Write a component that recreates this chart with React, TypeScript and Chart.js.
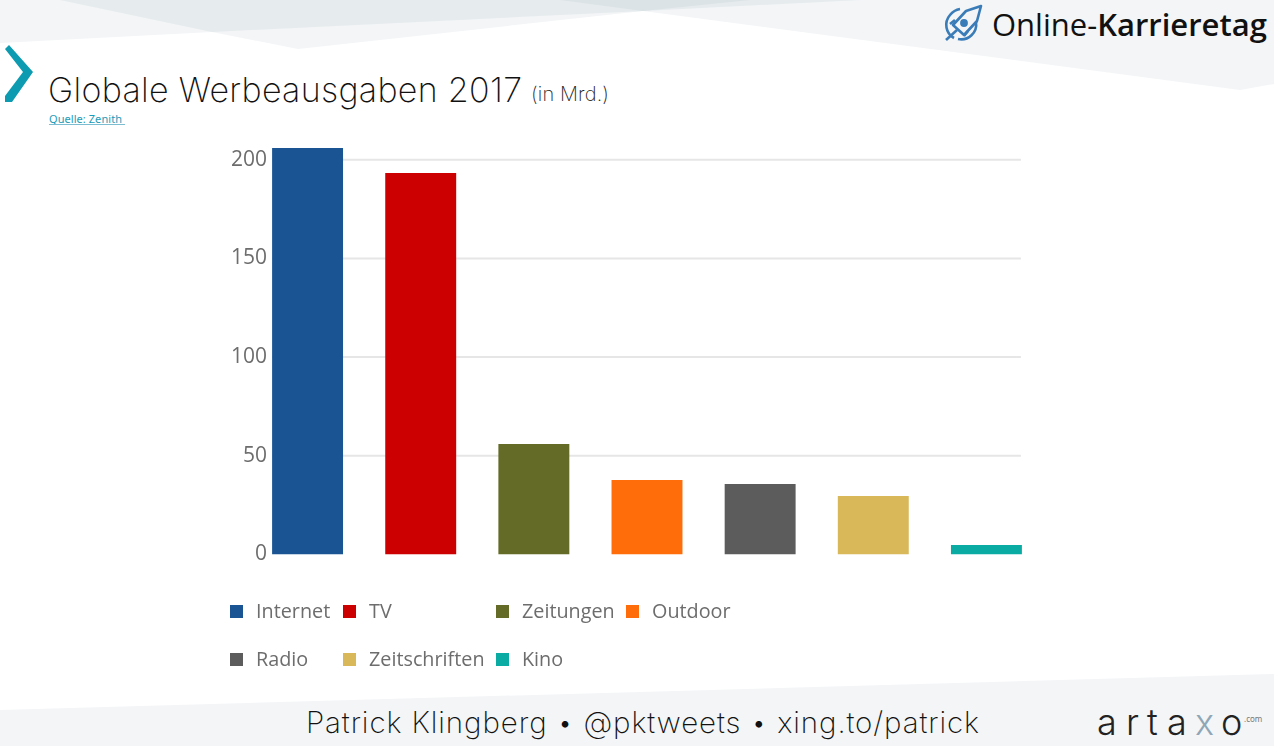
import React, { useEffect, useRef } from "react";
import { Chart, registerables } from "chart.js";

Chart.register(...registerables);

const categories = ["Internet", "TV", "Zeitungen", "Outdoor", "Radio", "Zeitschriften", "Kino"];
const spending = [205.9, 193.3, 56, 37.7, 35.7, 29.6, 4.8];
const barColors = ["#1a5493", "#cc0000", "#646b26", "#ff6d0a", "#5c5c5c", "#d8b858", "#0aaba3"];

const W = 1274;
const H = 746;
const legendColumns = [230, 343, 496, 626];
const legendRowOf = [0, 0, 0, 0, 1, 1, 1];
const legendColOf = [0, 1, 2, 3, 0, 1, 2];
const legendRowY = [611, 659];

const hGrid = {
  id: "hGrid",
  beforeDraw(chart: any) {
    // tick labels sit over the plot's left margin, so widen the axis' label area
    chart.scales.y.right = chart.scales.y.left + 271;
  },
  beforeDatasetsDraw(chart: any) {
    const y = chart.scales.y;
    const bars = chart.getDatasetMeta(0).data;
    const first = bars[0];
    const last = bars[bars.length - 1];
    const { ctx } = chart;
    ctx.save();
    ctx.strokeStyle = "#e6e6e6";
    ctx.lineWidth = 2;
    y.ticks.forEach((t: any) => {
      if (t.value === 0) return;
      const py = y.getPixelForValue(t.value);
      ctx.beginPath();
      ctx.moveTo(first.x - first.width / 2, py);
      ctx.lineTo(last.x + last.width / 2 - 1, py);
      ctx.stroke();
    });
    ctx.restore();
  },
};

const thin = "Inter, 'Noto Sans', sans-serif";

export default function App() {
  const ref = useRef<HTMLCanvasElement>(null);
  useEffect(() => {
    const chart = new Chart(ref.current!, {
      type: "bar",
      data: {
        labels: categories,
        datasets: [{ data: spending, backgroundColor: barColors, barPercentage: 0.627, categoryPercentage: 1 }],
      },
      options: {
        animation: false,
        responsive: false,
        layout: { padding: { top: 140, bottom: 191.5, left: 0, right: 231 } },
        plugins: { legend: { display: false }, tooltip: { enabled: false } },
        scales: {
          x: { display: false },
          y: {
            min: 0,
            max: 210,
            afterFit: (s: any) => {
              s.width = 251;
            },
            grid: { display: false, drawTicks: false },
            border: { display: false },
            ticks: {
              stepSize: 50,
              padding: 4,
              includeBounds: false,
              color: "#6d6d6d",
              font: { family: "'Open Sans', sans-serif", size: 21 },
            },
          },
        },
      },
      plugins: [hGrid],
    } as any);
    return () => chart.destroy();
  }, []);

  return (
    <div style={{ position: "absolute", left: 0, top: 0, width: W, height: H, background: "#fff", overflow: "hidden" }}>
      <svg width={W} height={H} style={{ position: "absolute", left: 0, top: 0 }}>
        <polygon points="0,0 0,43 212,32 298,49 643,11 1240,90 1274,84 1274,0" fill="#f3f5f7" />
        <polygon points="60,0 212,32 643,11 860,0" fill="#e6ebed" />
        <polygon points="560,0 643,11 750,0" fill="#dbe3e6" />
        <polygon points="0,710 1274,674 1274,746 0,746" fill="#f3f5f7" />
        <polygon points="5,49 9,45 33,72 12,102 5,102 5,96 23,72" fill="#0c9bb0" />
        <text x="48" y="102" fontFamily={thin} fontWeight="200" fontSize="34" fill="#111" textLength="474" lengthAdjust="spacing">Globale Werbeausgaben 2017</text>
        <text x="531" y="101" fontFamily={thin} fontWeight="200" fontSize="20" fill="#222" textLength="78" lengthAdjust="spacing">(in Mrd.)</text>
        <text x="49" y="123" fontFamily="'Noto Sans', sans-serif" fontSize="11" fill="#1b9bb8" textLength="73" lengthAdjust="spacing">Quelle: Zenith</text>
        <line x1="49" y1="124.5" x2="125" y2="124.5" stroke="#7dbdd2" strokeWidth="1" />
        <g fill="none" stroke="#3a7cb8" strokeWidth="2.6">
          <path d="M954 38 A15 15 0 0 1 950 15 Q954 10 960 9" />
          <path d="M976 22 A15 15 0 0 1 958 39" />
          <path d="M981 6 L966 11 L953 25 L964 35 L977 21 Z" strokeLinejoin="round" />
          <circle cx="964" cy="23" r="2.6" fill="#3a7cb8" />
          <line x1="946" y1="40" x2="957" y2="30" />
          <path d="M950 24 L955 20 M964 36 L968 31" />
        </g>
        <text x="992" y="36" fontFamily="'Open Sans', sans-serif" fontSize="31" fill="#111">Online-<tspan fontWeight="600">Karrieretag</tspan></text>
        <text x="306" y="733" fontFamily={thin} fontWeight="200" fontSize="29.5" fill="#111" textLength="673" lengthAdjust="spacing">Patrick Klingberg • @pktweets • xing.to/patrick</text>
        <g fontFamily={thin} fontWeight="300" fontSize="36" fill="#222">
          <text x="1097" y="735">a</text>
          <text x="1126" y="735">r</text>
          <text x="1147" y="735">t</text>
          <text x="1167" y="735">a</text>
          <text x="1195" y="735" fill="#8fa6b6">x</text>
          <text x="1221" y="735">o</text>
        </g>
        <text x="1244" y="722" fontFamily="'Noto Sans', sans-serif" fontSize="8" fill="#777">.com</text>
      </svg>
      <canvas ref={ref} width={W} height={H} style={{ position: "absolute", left: 0, top: 0 }} />
      {categories.map((c, i) => {
        const x = legendColumns[legendColOf[i]];
        const y = legendRowY[legendRowOf[i]];
        return (
          <React.Fragment key={c}>
            <div style={{ position: "absolute", left: x, top: y - 6, width: 13, height: 13, background: barColors[i] }} />
            <div
              style={{
                position: "absolute",
                left: x + 26,
                top: y - 15,
                height: 30,
                lineHeight: "30px",
                fontFamily: "'Open Sans', sans-serif",
                fontSize: 19.8,
                color: "#6d6d6d",
                whiteSpace: "nowrap",
              }}
            >
              {c}
            </div>
          </React.Fragment>
        );
      })}
    </div>
  );
}
